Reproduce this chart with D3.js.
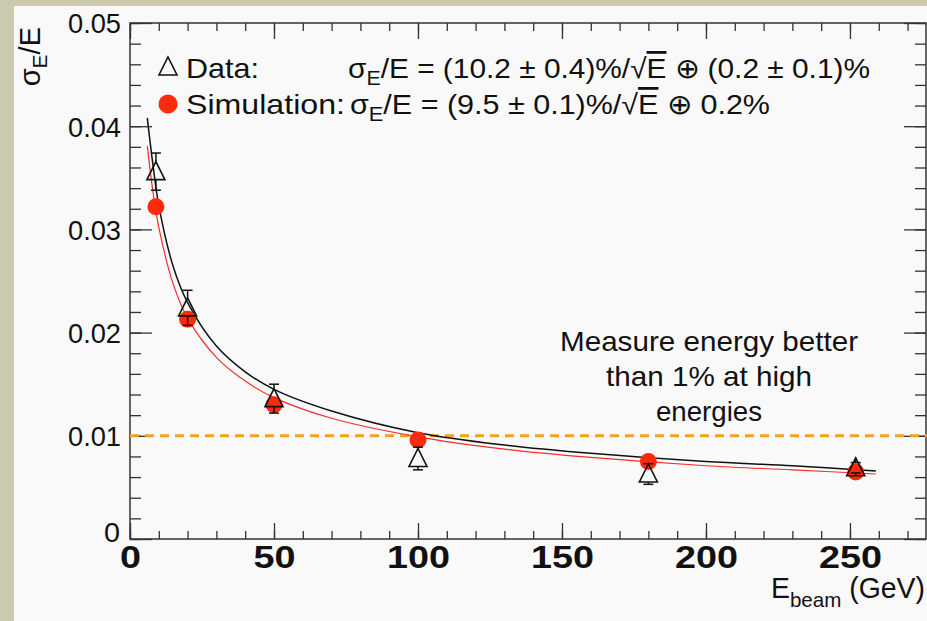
<!DOCTYPE html>
<html>
<head>
<meta charset="utf-8">
<script src="https://cdn.jsdelivr.net/npm/d3@7"></script>
<style>
  body { margin: 0; background: #f9f9f9; }
  svg { display: block; }
  text { font-family: "Liberation Sans", Arial, sans-serif; fill: #111; }
</style>
</head>
<body>
<div id="chart"></div>
<script>
// beam energies (GeV) and resolutions
const energy = [9, 20, 50, 100, 180, 252]
const dataRes = [0.0356, 0.0224, 0.0136, 0.0078, 0.0063, 0.0069]
const dataErr = [0.0018, 0.0017, 0.0014, 0.0011, 0.0010, 0.0005]
const simRes = [0.0322, 0.0213, 0.0130, 0.0096, 0.0075, 0.0065]
const simErr = [0.0004, 0.0004, 0.0004, 0.0003, 0.0003, 0.0003]

// fit curves
const fitE = [6, 8, 10, 15, 20, 30, 40, 50, 70, 100, 130, 160, 200, 230, 259]
const fitData = [0.0408, 0.0362, 0.0323, 0.0264, 0.0229, 0.0187, 0.0162, 0.0145, 0.0124, 0.0103, 0.0091, 0.0083, 0.0075, 0.0071, 0.0066]
const fitSim = [0.0381, 0.0336, 0.0302, 0.0247, 0.0214, 0.0176, 0.0153, 0.0137, 0.0117, 0.0099, 0.0087, 0.0079, 0.0071, 0.0067, 0.0063]

const xTicks = [0, 50, 100, 150, 200, 250]
const yTicks = [0, 0.01, 0.02, 0.03, 0.04, 0.05]
const targetLine = 0.01
const noteLines = ["Measure energy better", "than 1% at high", "energies"]

const W = 927, H = 621
const frame = { left: 130, right: 926, top: 23, bottom: 539 }

const svg = d3.select("#chart").append("svg")
    .attr("width", W).attr("height", H)

svg.append("rect").attr("width", W).attr("height", H).attr("fill", "#f9f9f9")
// beige slide border on the left and top
svg.append("rect").attr("x", 0).attr("y", 0).attr("width", 14).attr("height", H).attr("fill", "#cbc9b0")
svg.append("rect").attr("x", 0).attr("y", 0).attr("width", W).attr("height", 6).attr("fill", "#cbc9b0")

const x = d3.scaleLinear().domain([0, 276.4]).range([frame.left, frame.right])
const y = d3.scaleLinear().domain([0, 0.05]).range([frame.bottom, frame.top])

// ticks, ROOT style: inward, mirrored on top and right
const minorX = d3.range(0, 277, 10)
const minorY = d3.range(0, 0.0501, 0.002)

function tickAxis(axisFn, scale, ticks, size, tx, ty) {
    const g = svg.append("g").attr("transform", `translate(${tx},${ty})`)
        .call(axisFn(scale).tickValues(ticks).tickSize(size).tickFormat(""))
    g.select(".domain").remove()
    g.selectAll(".tick line").attr("stroke", "#333").attr("stroke-width", 1.3)
    return g
}
tickAxis(d3.axisBottom, x, minorX, -8, 0, frame.bottom)
tickAxis(d3.axisBottom, x, xTicks, -16, 0, frame.bottom)
tickAxis(d3.axisTop, x, minorX, -8, 0, frame.top)
tickAxis(d3.axisTop, x, xTicks, -16, 0, frame.top)
tickAxis(d3.axisLeft, y, minorY, -11, frame.left, 0)
tickAxis(d3.axisLeft, y, yTicks, -22, frame.left, 0)
tickAxis(d3.axisRight, y, minorY, -11, frame.right, 0)
tickAxis(d3.axisRight, y, yTicks, -22, frame.right, 0)

svg.append("rect")
    .attr("x", frame.left).attr("y", frame.top)
    .attr("width", frame.right - frame.left).attr("height", frame.bottom - frame.top)
    .attr("fill", "none").attr("stroke", "#333").attr("stroke-width", 1.5)

// tick labels
const xLab = svg.append("g").attr("transform", `translate(0,${frame.bottom})`)
    .call(d3.axisBottom(x).tickValues(xTicks).tickSize(0).tickPadding(6).tickFormat(d3.format("d")))
xLab.select(".domain").remove()
xLab.selectAll(".tick text").attr("font-size", 32).attr("font-weight", "bold")
    .attr("font-family", "Liberation Sans, Arial, sans-serif").attr("fill", "#111")
    .attr("textLength", d => String(d).length * 21).attr("lengthAdjust", "spacingAndGlyphs")

const yLab = svg.append("g").attr("transform", `translate(${frame.left - 9},0)`)
    .call(d3.axisLeft(y).tickValues(yTicks).tickSize(0).tickPadding(0).tickFormat(d => d === 0 ? "0" : d3.format(".2f")(d)))
yLab.select(".domain").remove()
yLab.selectAll(".tick text").attr("font-size", 28).attr("dy", "0.35em")
    .attr("font-family", "Liberation Sans, Arial, sans-serif").attr("fill", "#111")
    .attr("textLength", d => d === 0 ? 16 : 53).attr("lengthAdjust", "spacingAndGlyphs")
yLab.selectAll(".tick").filter(d => d === 0).select("text").attr("dy", "0.1em").attr("dx", -1)

// axis titles
const yt = svg.append("text").attr("transform", "translate(40,27) rotate(-90)")
    .attr("text-anchor", "end").attr("font-size", 29)
yt.append("tspan").text("σ")
yt.append("tspan").attr("font-size", 21).attr("dy", 7).text("E")
yt.append("tspan").attr("dy", -7).text("/E")

const xt = svg.append("text").attr("x", 925).attr("y", 598)
    .attr("text-anchor", "end").attr("font-size", 29)
xt.append("tspan").text("E")
xt.append("tspan").attr("font-size", 21).attr("dy", 9).text("beam")
xt.append("tspan").attr("dy", -9).text(" (GeV)")
xt.attr("textLength", 154).attr("lengthAdjust", "spacingAndGlyphs")

// 1% target line
svg.append("line")
    .attr("x1", frame.left).attr("x2", W)
    .attr("y1", y(targetLine)).attr("y2", y(targetLine))
    .attr("stroke", "#f5a11c").attr("stroke-width", 3).attr("stroke-dasharray", "9,6")

// fits
const line = d3.line().x(d => x(d[0])).y(d => y(d[1])).curve(d3.curveCatmullRom)
svg.append("path").datum(fitE.map((e, i) => [e, fitSim[i]]))
    .attr("d", line).attr("fill", "none").attr("stroke", "#ff2a2a").attr("stroke-width", 1.2)
svg.append("path").datum(fitE.map((e, i) => [e, fitData[i]]))
    .attr("d", line).attr("fill", "none").attr("stroke", "#111").attr("stroke-width", 1.5)

// simulation points
const sim = svg.append("g")
sim.selectAll("line").data(energy).join("line")
    .attr("x1", d => x(d)).attr("x2", d => x(d))
    .attr("y1", (d, i) => y(simRes[i] - simErr[i])).attr("y2", (d, i) => y(simRes[i] + simErr[i]))
    .attr("stroke", "#111").attr("stroke-width", 1.3)
sim.selectAll("circle").data(energy).join("circle")
    .attr("cx", d => x(d)).attr("cy", (d, i) => y(simRes[i])).attr("r", 8.5)
    .attr("fill", "#fe2a0b")

// data points with error bars
const tri = "M0,-10L9,8L-9,8Z"
const dat = svg.append("g")
energy.forEach((e, i) => {
    const cx = x(e), lo = y(dataRes[i] - dataErr[i]), hi = y(dataRes[i] + dataErr[i])
    dat.append("line").attr("x1", cx).attr("x2", cx).attr("y1", lo).attr("y2", y(dataRes[i]) + 8)
        .attr("stroke", "#111").attr("stroke-width", 1.5)
    dat.append("line").attr("x1", cx).attr("x2", cx).attr("y1", hi).attr("y2", y(dataRes[i]) - 10)
        .attr("stroke", "#111").attr("stroke-width", 1.5)
    dat.append("line").attr("x1", cx - 5).attr("x2", cx + 5).attr("y1", lo).attr("y2", lo)
        .attr("stroke", "#111").attr("stroke-width", 1.5)
    dat.append("line").attr("x1", cx - 5).attr("x2", cx + 5).attr("y1", hi).attr("y2", hi)
        .attr("stroke", "#111").attr("stroke-width", 1.5)
    dat.append("path").attr("d", tri).attr("transform", `translate(${cx},${y(dataRes[i])})`)
        .attr("fill", "none").attr("stroke", "#111").attr("stroke-width", 1.6)
})

// legend
svg.append("path").attr("d", tri).attr("transform", "translate(168,67)")
    .attr("fill", "none").attr("stroke", "#111").attr("stroke-width", 1.6)
svg.append("circle").attr("cx", 168).attr("cy", 104).attr("r", 9.5).attr("fill", "#fe2a0b")

function formula(xPos, yPos, parts, width) {
    const t = svg.append("text").attr("x", xPos).attr("y", yPos).attr("font-size", 28)
    parts.forEach(p => {
        const s = t.append("tspan").text(p.t)
        if (p.sub) s.attr("font-size", 20).attr("dy", 7)
        if (p.up) s.attr("dy", -7)
        if (p.over) s.style("text-decoration", "overline")
    })
    if (width) t.attr("textLength", width).attr("lengthAdjust", "spacingAndGlyphs")
    return t
}
formula(186, 78, [{ t: "Data:" }], 73)
formula(186, 114, [{ t: "Simulation:" }], 159)
formula(348, 78, [{ t: "σ" }, { t: "E", sub: true }, { t: "/E = (10.2 ± 0.4)%/√", up: true }, { t: "E", over: true }, { t: " ⊕ (0.2 ± 0.1)%" }], 522)
formula(350, 114, [{ t: "σ" }, { t: "E", sub: true }, { t: "/E = (9.5 ± 0.1)%/√", up: true }, { t: "E", over: true }, { t: " ⊕  0.2%" }], 420)

// annotation
const note = svg.append("text").attr("text-anchor", "middle")
    .attr("font-family", "Lato, 'Open Sans', sans-serif").attr("font-size", 28)
note.selectAll("tspan").data(noteLines).join("tspan")
    .attr("x", 709).attr("y", (d, i) => 351 + i * 35).text(d => d)
    .attr("textLength", (d, i) => [298, 206, 106][i]).attr("lengthAdjust", "spacingAndGlyphs")
</script>
</body>
</html>
